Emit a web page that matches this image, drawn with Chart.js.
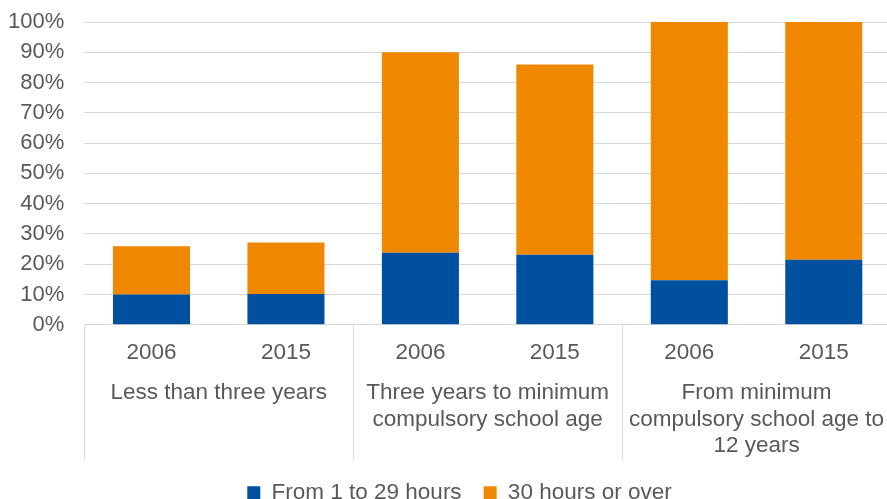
<!DOCTYPE html>
<html>
<head>
<meta charset="utf-8">
<script src="https://cdn.jsdelivr.net/npm/chart.js@4/dist/chart.umd.min.js"></script>
<style>
  html, body { margin: 0; padding: 0; background: #fff; overflow: hidden; }
  #wrap { position: absolute; left: 0; top: 0; width: 892px; height: 514px; }
</style>
</head>
<body>
<div id="wrap"><canvas id="chart"></canvas></div>
<script>
/* chart data */
const years = ['2006', '2015', '2006', '2015', '2006', '2015'];
const groups = [
  ['Less than three years'],
  ['Three years to minimum', 'compulsory school age'],
  ['From minimum', 'compulsory school age to', '12 years']
];
const shortHours = [10.0, 10.2, 23.8, 23.1, 14.7, 21.5];
const longHours = [15.9, 17.0, 66.2, 62.9, 85.3, 78.5];

const TEXT = '#595959';
const GRID = '#D9D9D9';
const FAMILY = 'Liberation Sans, Arial, sans-serif';
const FONT = { family: FAMILY, size: 22.5, lineHeight: 1.18 };

// vertical separators between the category groups, taken from the group axis
const groupLines = {
  id: 'groupLines',
  afterLayout(chart) {
    // legend sits a little right of the canvas centre in the original
    chart.legend.left += 20;
  },
  afterDraw(chart) {
    const sc = chart.scales.x2;
    const ctx = chart.ctx;
    ctx.save();
    ctx.strokeStyle = GRID;
    ctx.lineWidth = 1;
    for (let i = 0; i <= groups.length; i++) {
      const x = Math.round(sc.getPixelForValue(i - 0.5)) + 0.5;
      ctx.beginPath();
      ctx.moveTo(x, chart.chartArea.bottom);
      ctx.lineTo(x, sc.bottom);
      ctx.stroke();
    }
    ctx.restore();
  }
};

// chart.js adds the tick padding twice; keep only one
const fitX = s => {
  s.paddingLeft = 0;
  s.paddingRight = 0;
  s.height -= s.options.ticks.padding;
};
const fitY = s => {
  s.width -= s.options.ticks.padding;
  s.paddingTop = 0;
};

new Chart(document.getElementById('chart'), {
  type: 'bar',
  data: {
    labels: years,
    datasets: [
      { label: 'From 1 to 29 hours', data: shortHours, backgroundColor: '#0050A0' },
      { label: '30 hours or over', data: longHours, backgroundColor: '#F08700' }
    ]
  },
  options: {
    responsive: true,
    maintainAspectRatio: false,
    animation: false,
    barPercentage: 0.573,
    categoryPercentage: 1,
    layout: { padding: { left: 8, right: 1, top: 22, bottom: 0 } },
    plugins: {
      legend: {
        position: 'bottom',
        labels: { boxWidth: 13, boxHeight: 13, padding: 22, color: TEXT, font: FONT }
      },
      tooltip: { enabled: false }
    },
    scales: {
      y: {
        stacked: true,
        min: 0, max: 100,
        afterFit: fitY,
        ticks: { stepSize: 10, autoSkip: false, callback: v => v + '%', color: TEXT,
                 font: { family: FAMILY, size: 22 }, padding: 20 },
        grid: { color: GRID, drawTicks: false },
        border: { display: false }
      },
      x: {
        stacked: true,
        afterFit: fitX,
        ticks: { color: TEXT, font: FONT, padding: 15, maxRotation: 0, autoSkip: false },
        grid: { display: false, drawTicks: false },
        border: { display: false }
      },
      x2: {
        type: 'category',
        position: 'bottom',
        labels: groups,
        offset: true,
        afterFit: fitX,
        ticks: { color: TEXT, font: FONT, padding: 13.5, maxRotation: 0, autoSkip: false },
        grid: { display: false, drawTicks: false },
        border: { display: false }
      }
    }
  },
  plugins: [groupLines]
});
</script>
</body>
</html>
